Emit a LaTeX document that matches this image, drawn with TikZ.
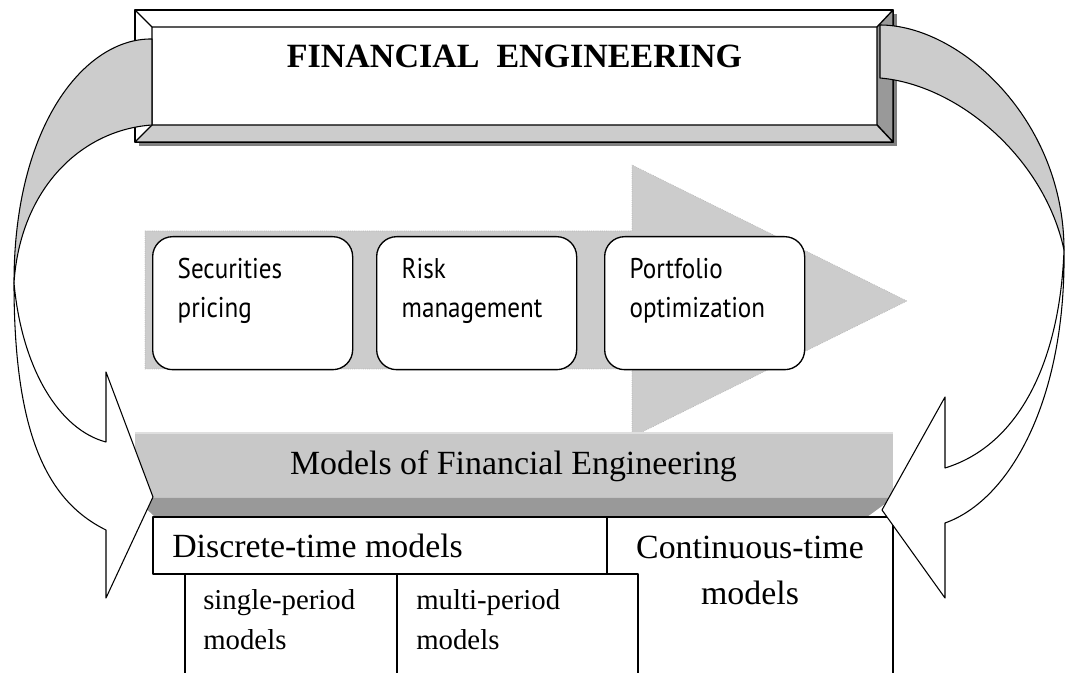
\documentclass[tikz,border=0pt]{standalone}
\usepackage{fontspec}
\setmainfont{Liberation Serif}
\newfontfamily\boxfont[FakeStretch=0.88]{PT Sans}
\usetikzlibrary{positioning}
\definecolor{lgray}{RGB}{204,204,204}
\definecolor{bgray}{RGB}{200,200,200}
\definecolor{dgray}{RGB}{153,153,153}
\definecolor{sgray}{RGB}{128,128,128}
\newcommand{\cellbox}[1]{\parbox[c][66.75pt][t]{112.5pt}{\raggedright\boxfont\fontsize{21.4}{29.25}\selectfont #1}}

\begin{document}
\begin{tikzpicture}[x=.75pt, y=-.75pt, line join=round,
    rbox/.style={draw, line width=1pt, rounded corners=15pt, fill=white, anchor=north west, inner xsep=18.75pt, inner ysep=16.5pt},
    txt/.style={inner sep=0pt, font=\fontsize{25.4}{35.25}\selectfont},
    subtxt/.style={inner sep=0pt, align=left, font=\fontsize{21.6}{30}\selectfont},
    ribbon/.style={draw, line width=.8pt, fill=lgray},
    sheet/.style={draw, line width=1pt, fill=white}]
\useasboundingbox (0,0) rectangle (1065,673);
\clip (0,0) rectangle (1065,673);

\draw[gray!70, densely dotted, line width=.4pt, fill=lgray] (145,231) -- (632,231) -- (632,165) -- (907,301) -- (632,437) -- (632,369) -- (145,369) -- cycle;
\foreach \n/\x/\t in {secur/152/Securities\\pricing, risk/376/Risk\\management, portf/604/Portfolio\\optimization}
  \node[rbox] (\n) at (\x,236) {\cellbox{\t}};

\fill[sgray] (139,14) rectangle (897,146);
\draw[line width=1pt, fill=white] (135,10) rectangle (893,142);
\draw[line width=1pt, fill=dgray] (877,27) -- (893,10) -- (893,142) -- (877,125) -- cycle;
\draw[line width=1pt, fill=lgray] (152,125) -- (877,125) -- (893,142) -- (135,142) -- cycle;
\draw[line width=1pt] (135,10) -- (152,27) -- (877,27) (152,27) -- (152,125);
\node[txt, font=\bfseries\fontsize{25.5}{30}\selectfont, anchor=base] (title) at (514.5,68) {FINANCIAL\ \ ENGINEERING};

\draw[ribbon] (152,39) .. controls (85,38) and (14,125) .. (14,283) .. controls (20,190) and (80,130) .. (152,125) -- cycle;
\draw[ribbon] (880,25) .. controls (960,25) and (1064,120) .. (1064,250) .. controls (1045,160) and (960,85) .. (880,78) -- cycle;

\fill[bgray] (135,432) rectangle (893,498);
\draw[gray!25, line width=1.2pt] (135,433) -- (893,433);
\fill[dgray] (135,498) -- (893,498) -- (867,517) -- (155,517) -- cycle;
\node[txt, anchor=base] (models) at (513.5,475) {Models of Financial Engineering};

\draw[sheet] (607,517) rectangle (893,690);
\draw[sheet] (153,517) rectangle (607,574);
\draw[sheet] (185,574) rectangle (638,690);
\draw[line width=1pt] (397,574) -- (397,690);
\node[txt, anchor=base west] (discr) at (172,558) {Discrete-time models};
\node[txt, anchor=base, align=center] (contin) at (750,605) {Continuous-time\\models};
\node[subtxt, anchor=base west] (single) at (203,650) {single-period\\models};
\node[subtxt, anchor=base west] (multi) at (416,650) {multi-period\\models};

\draw[line width=.8pt, fill=white] (14,283) .. controls (14,430) and (45,500) .. (106,530) -- (106,598) -- (153,497) -- (106,372) -- (106,442) .. controls (60,430) and (22,370) .. (14,283) -- cycle;
\draw[line width=.8pt, fill=white] (1064,250) .. controls (1066,400) and (1010,500) .. (945,523) -- (945,598) -- (882,510) -- (945,397) -- (945,468) .. controls (1020,445) and (1060,360) .. (1064,250) -- cycle;
\end{tikzpicture}
\end{document}
